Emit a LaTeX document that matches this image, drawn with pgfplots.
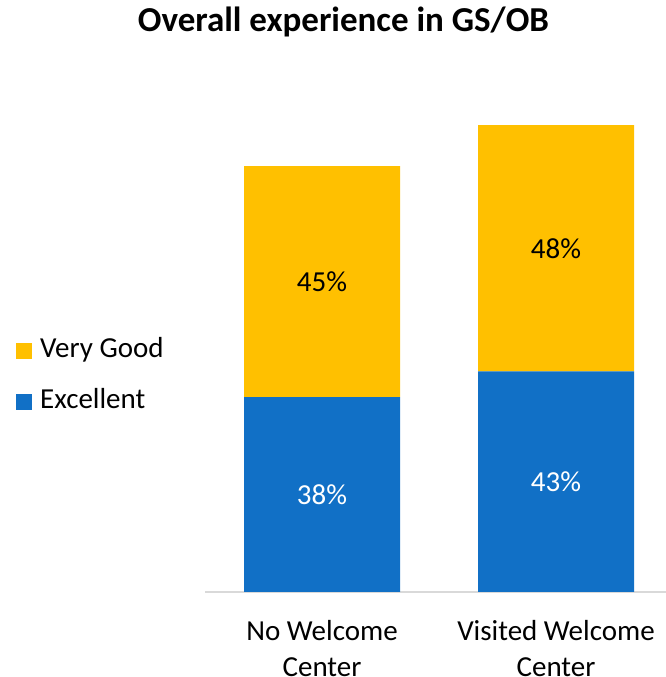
\documentclass[border=0pt]{standalone}
\usepackage{pgfplots}
\pgfplotsset{compat=1.18}
\usepackage{fontspec}
\setmainfont{Carlito}
\definecolor{cblue}{HTML}{1170C6}
\definecolor{cyellow}{HTML}{FFC000}
\definecolor{caxis}{HTML}{D9D9D9}

\begin{document}
\begin{tikzpicture}
\path[use as bounding box] (0,0) rectangle (666pt,677pt);
\begin{axis}[
    at={(205pt,85pt)}, anchor=south west,
    scale only axis, width=461pt, height=513pt,
    xmin=-0.5, xmax=1.47, ymin=0, ymax=100,
    enlargelimits=false,
    ybar stacked, bar width=156pt,
    axis y line=none, axis x line*=bottom,
    x axis line style={draw=caxis, line width=1.5pt, -},
    xtick=data,
    xticklabels={{No Welcome\\Center},{Visited Welcome\\Center}},
    major tick length=0pt,
    xticklabel style={align=center, inner sep=0pt, yshift=-28pt,
        font=\fontsize{29}{36}\selectfont},
    title={Overall experience in GS/OB},
    title style={at={(axis description cs:0.3004,1.0994)}, anchor=center,
        inner sep=0pt, font=\fontsize{35}{42}\selectfont\bfseries},
    legend style={at={(axis description cs:-0.410,0.420)}, anchor=west,
        draw=none, fill=none, inner sep=0pt, row sep=24pt,
        font=\fontsize{29}{35}\selectfont,
        nodes={inner sep=0pt, text height=20pt, text depth=7pt},
        /tikz/every odd column/.append style={column sep=8pt}},
    legend cell align=left,
    legend image code/.code={\fill[#1] (0pt,-8pt) rectangle (16pt,8pt);},
    reverse legend,
    /pgf/number format/assume math mode=true,
    visualization depends on=rawy \as \rawy,
    nodes near coords={\pgfmathprintnumber{\rawy}\%},
    % with anchor=center the labels already sit mid-segment
    every node near coord/.append style={anchor=center, inner sep=0pt,
        font=\fontsize{29}{35}\selectfont},
]
\addplot[fill=cblue, draw=none, every node near coord/.append style={text=white}]
    coordinates {(0,38) (1,43)};
\addplot[fill=cyellow, draw=none, every node near coord/.append style={text=black}]
    coordinates {(0,45) (1,48)};
\legend{Excellent, Very Good}
\end{axis}
\end{tikzpicture}
\end{document}
